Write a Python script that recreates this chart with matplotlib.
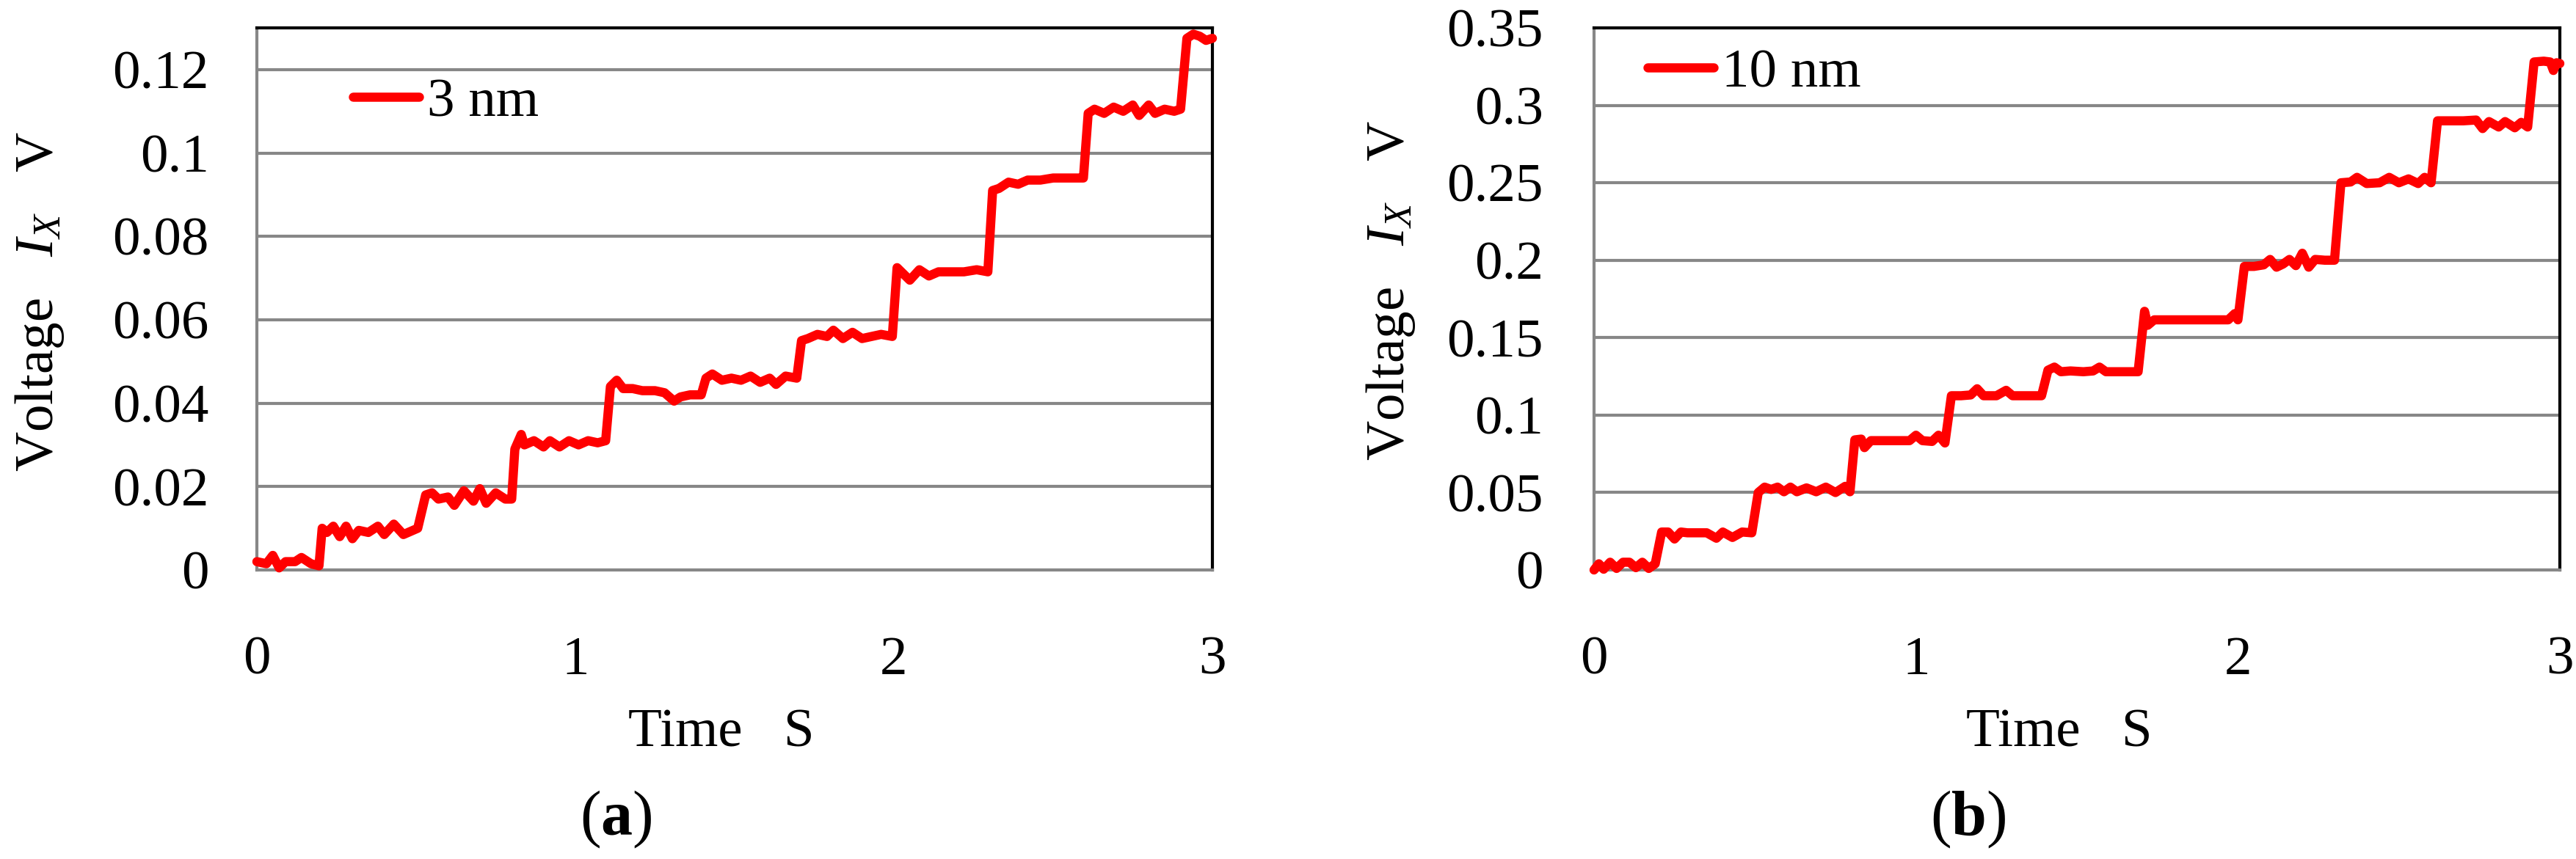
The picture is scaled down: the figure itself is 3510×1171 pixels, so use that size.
import matplotlib
matplotlib.use("Agg")
import matplotlib.pyplot as plt

plt.rcParams['font.family'] = ['Liberation Serif', 'DejaVu Serif']
plt.rcParams['mathtext.fontset'] = 'custom'
plt.rcParams['mathtext.rm'] = 'Liberation Serif'
plt.rcParams['mathtext.it'] = 'Liberation Serif:italic'
plt.rcParams['mathtext.bf'] = 'Liberation Serif:bold'

# ---------------- data ----------------
t_3nm = [0.00, 0.03, 0.05, 0.07, 0.09, 0.12, 0.14, 0.17, 0.195,
         0.205, 0.22, 0.24, 0.26, 0.28, 0.30, 0.32, 0.35, 0.38, 0.40, 0.43, 0.46, 0.49,
         0.505, 0.53, 0.55, 0.57, 0.60, 0.62, 0.65, 0.68, 0.70, 0.72, 0.75, 0.78, 0.80,
         0.81, 0.83, 0.84, 0.87, 0.90, 0.92, 0.95, 0.98, 1.01, 1.04, 1.07, 1.095,
         1.11, 1.13, 1.15, 1.18, 1.21, 1.25, 1.28, 1.31, 1.33, 1.36, 1.395,
         1.41, 1.43, 1.46, 1.49, 1.52, 1.55, 1.58, 1.61, 1.63, 1.66, 1.695,
         1.71, 1.73, 1.76, 1.79, 1.81, 1.84, 1.87, 1.90, 1.93, 1.96, 1.995,
         2.01, 2.03, 2.05, 2.08, 2.11, 2.14, 2.18, 2.22, 2.26, 2.295,
         2.31, 2.33, 2.36, 2.39, 2.42, 2.46, 2.50, 2.54, 2.58, 2.595,
         2.61, 2.63, 2.66, 2.69, 2.72, 2.75, 2.77, 2.80, 2.82, 2.85, 2.88, 2.90,
         2.92, 2.94, 2.96, 2.98, 3.00]
v_3nm = [0.002, 0.0015, 0.0035, 0.0005, 0.002, 0.002, 0.003, 0.0015, 0.001,
         0.010, 0.009, 0.0105, 0.008, 0.0105, 0.0075, 0.0095, 0.009, 0.0105, 0.0085, 0.011, 0.0085, 0.0095,
         0.010, 0.018, 0.0185, 0.017, 0.0175, 0.0155, 0.019, 0.0165, 0.0195, 0.016, 0.0185, 0.017, 0.017,
         0.029, 0.0325, 0.030, 0.031, 0.0295, 0.031, 0.0295, 0.031, 0.030, 0.031, 0.0305, 0.031,
         0.044, 0.0455, 0.0435, 0.0435, 0.043, 0.043, 0.0425, 0.0405, 0.0415, 0.042, 0.042,
         0.046, 0.047, 0.0455, 0.046, 0.0455, 0.0465, 0.045, 0.046, 0.0445, 0.0465, 0.046,
         0.055, 0.0555, 0.0565, 0.056, 0.0575, 0.0555, 0.057, 0.0555, 0.056, 0.0565, 0.056,
         0.0725, 0.071, 0.0695, 0.072, 0.0705, 0.0715, 0.0715, 0.0715, 0.072, 0.0715,
         0.091, 0.0915, 0.093, 0.0925, 0.0935, 0.0935, 0.094, 0.094, 0.094, 0.094,
         0.1095, 0.1105, 0.1095, 0.111, 0.110, 0.1115, 0.109, 0.1115, 0.1095, 0.1105, 0.110, 0.1105,
         0.1275, 0.1285, 0.128, 0.127, 0.1275]

t_10nm = [0.00, 0.015, 0.03, 0.05, 0.07, 0.09, 0.11, 0.13, 0.15, 0.17, 0.19,
          0.21, 0.23, 0.25, 0.27, 0.29, 0.32, 0.35, 0.38, 0.40, 0.43, 0.46, 0.49,
          0.51, 0.53, 0.55, 0.57, 0.59, 0.61, 0.63, 0.66, 0.69, 0.72, 0.75, 0.78, 0.795,
          0.81, 0.83, 0.84, 0.86, 0.90, 0.94, 0.98, 1.00, 1.02, 1.05, 1.07, 1.09,
          1.11, 1.14, 1.17, 1.19, 1.21, 1.25, 1.28, 1.30, 1.34, 1.39,
          1.41, 1.43, 1.45, 1.48, 1.52, 1.55, 1.57, 1.59, 1.63, 1.66, 1.69,
          1.71, 1.72, 1.74, 1.80, 1.90, 1.97, 1.99, 2.00,
          2.02, 2.05, 2.08, 2.10, 2.12, 2.14, 2.16, 2.18, 2.20, 2.22, 2.24, 2.27, 2.30,
          2.32, 2.35, 2.37, 2.40, 2.44, 2.47, 2.50, 2.53, 2.56, 2.58, 2.60,
          2.62, 2.66, 2.70, 2.74, 2.76, 2.78, 2.81, 2.83, 2.86, 2.88, 2.90,
          2.92, 2.95, 2.97, 2.98, 2.99, 3.00]
v_10nm = [0.000, 0.004, 0.0005, 0.005, 0.001, 0.005, 0.005, 0.0015, 0.005, 0.001, 0.004,
          0.0245, 0.0245, 0.020, 0.0245, 0.024, 0.024, 0.024, 0.0205, 0.0245, 0.021, 0.0245, 0.024,
          0.050, 0.0535, 0.052, 0.0535, 0.0505, 0.0535, 0.0505, 0.053, 0.0505, 0.0535, 0.050, 0.054, 0.0505,
          0.084, 0.0845, 0.079, 0.0835, 0.0835, 0.0835, 0.0835, 0.087, 0.0835, 0.083, 0.087, 0.082,
          0.1125, 0.1125, 0.113, 0.117, 0.1125, 0.1125, 0.116, 0.1125, 0.1125, 0.1125,
          0.129, 0.131, 0.128, 0.1285, 0.128, 0.1285, 0.131, 0.128, 0.128, 0.128, 0.128,
          0.167, 0.158, 0.1615, 0.1615, 0.1615, 0.1615, 0.1655, 0.1615,
          0.196, 0.196, 0.197, 0.2005, 0.1955, 0.1975, 0.2005, 0.1965, 0.2045, 0.1955, 0.2005, 0.200, 0.200,
          0.250, 0.2505, 0.2535, 0.2495, 0.250, 0.2535, 0.250, 0.2525, 0.2495, 0.2535, 0.250,
          0.290, 0.290, 0.290, 0.2905, 0.285, 0.2895, 0.286, 0.2895, 0.2855, 0.289, 0.286,
          0.328, 0.3285, 0.328, 0.3225, 0.3275, 0.327]

x_ticks = [0, 1, 2, 3]
x_ticklabels = ["0", "1", "2", "3"]
y_ticks_a = [0, 0.02, 0.04, 0.06, 0.08, 0.10, 0.12]
y_ticklabels_a = ["0", "0.02", "0.04", "0.06", "0.08", "0.1", "0.12"]
y_ticks_b = [0, 0.05, 0.10, 0.15, 0.20, 0.25, 0.30, 0.35]
y_ticklabels_b = ["0", "0.05", "0.1", "0.15", "0.2", "0.25", "0.3", "0.35"]
series_labels = ["3 nm", "10 nm"]
panel_labels = ["a", "b"]

# ---------------- figure ----------------
W, H = 3510, 1171
fig = plt.figure(figsize=(W / 100, H / 100), dpi=100)

FS = 54
GRAY = '#878787'
RED = '#ff0000'
LW_GRID = 3.0

ax_a = fig.add_axes([350 / W, 1 - 777 / H, 1302 / W, 739 / H])
ax_b = fig.add_axes([2172 / W, 1 - 777 / H, 1316 / W, 739 / H])

panels = [
    (ax_a, t_3nm, v_3nm, series_labels[0], y_ticks_a, y_ticklabels_a, 0.13, 47,
     (481 - 350) / 1302, (777 - 140) / 739, (90 - 350) / 1302, (777 - 411) / 739,
     983 / W, 839 / W),
    (ax_b, t_10nm, v_10nm, series_labels[1], y_ticks_b, y_ticklabels_b, 0.35, 50,
     (2245 - 2172) / 1316, (777 - 100) / 739, (1931 - 2172) / 1316, (777 - 396) / 739,
     2806 / W, 2682 / W),
]

for i, (ax, t, v, lab, yt, ytl, ytop, ypad, lgx, lgy, ylx, yly, xlx, plx) in enumerate(panels):
    ax.plot(t, v, color=RED, lw=9, solid_capstyle='round', solid_joinstyle='round',
            zorder=5, clip_on=False, label=lab)
    ax.set_xlim(0, 3)
    ax.set_ylim(0, ytop)
    ax.set_xticks(x_ticks)
    ax.set_xticklabels(x_ticklabels)
    ax.set_yticks(yt)
    ax.set_yticklabels(ytl)
    ax.tick_params(axis='both', length=0, labelsize=FS)
    ax.tick_params(axis='x', pad=65)
    ax.tick_params(axis='y', pad=ypad)
    ax.grid(axis='y', color=GRAY, lw=LW_GRID, zorder=1)
    ax.set_axisbelow(True)
    ax.spines['left'].set_color(GRAY)
    ax.spines['bottom'].set_color(GRAY)
    ax.spines['top'].set_color('black')
    ax.spines['right'].set_color('black')
    for s in ax.spines.values():
        s.set_linewidth(LW_GRID)
    ax.set_ylabel("Voltage   $I_X$   V", fontsize=FS)
    ax.yaxis.set_label_coords(ylx, yly)
    leg = ax.legend(loc='center left', bbox_to_anchor=(lgx, lgy), frameon=False,
                    fontsize=FS, handlelength=1.2, handletextpad=0.14,
                    borderpad=0, borderaxespad=0)
    fig.text(xlx, 1 - 1018 / H, "Time   S", fontsize=FS, ha='center', va='baseline')
    fig.text(plx, 1 - 1138 / H, "($\\mathbf{" + panel_labels[i] + "}$)", fontsize=62,
             ha='center', va='baseline')

fig.savefig("out.png", dpi=100)
